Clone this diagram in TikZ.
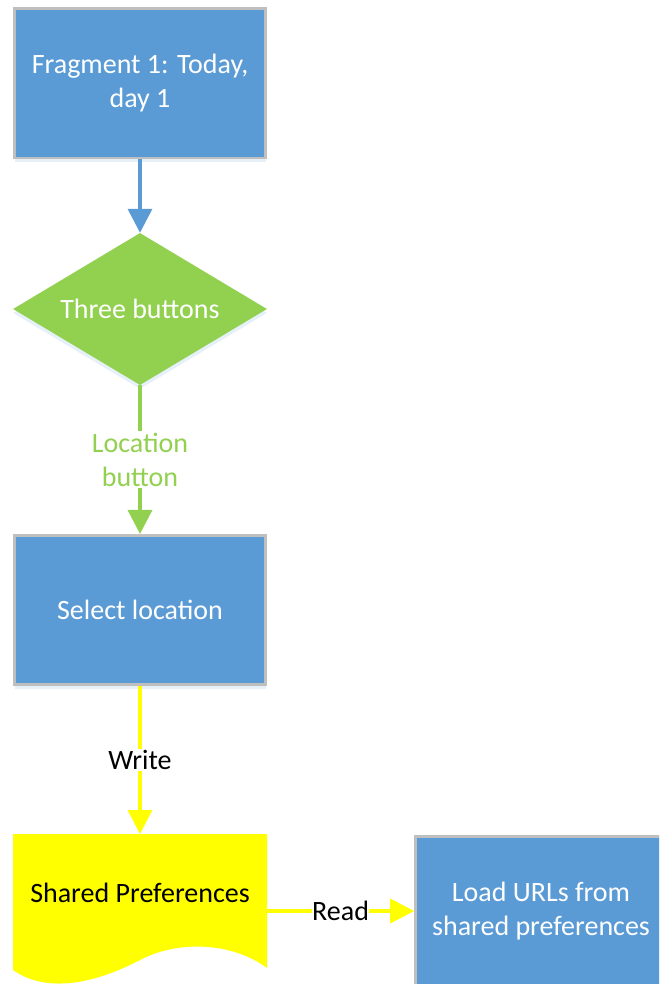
\documentclass[tikz,border=0pt]{standalone}
\usepackage{fontspec}
\setmainfont{Carlito}
\usetikzlibrary{shapes.geometric,arrows.meta,shadows}

\definecolor{procblue}{HTML}{5B9BD5}
\definecolor{decgreen}{HTML}{92D050}
\definecolor{docyellow}{HTML}{FFFF00}
\definecolor{edgegray}{HTML}{BFBFBF}

\tikzset{
  boxfont/.style={font=\fontsize{28}{34}\selectfont},
  process/.style={rectangle, boxfont, align=center, text=white,
    fill=procblue, draw=edgegray, line width=2.6pt,
    minimum width=251pt, minimum height=149.5pt,
    drop shadow={shadow xshift=0pt, shadow yshift=-4pt,
      fill=procblue!30, opacity=0.5}},
  decision/.style={diamond, boxfont, text=white, fill=decgreen,
    aspect=1.67, inner sep=0pt, minimum width=254pt, minimum height=152pt,
    drop shadow={shadow xshift=0pt, shadow yshift=-4pt,
      fill=procblue!30, opacity=0.5}},
  flow/.style={line width=3.5pt, -{Triangle[width=24pt,length=24pt]}},
  flowlabel/.style={boxfont, fill=white, inner sep=1.5pt, align=center}
}

\begin{document}
\begin{tikzpicture}[x=1pt,y=-1pt]
\useasboundingbox (0,0) rectangle (659,984);
\clip (0,0) rectangle (659,984);

% document shape (wavy bottom)
\fill[docyellow] (13,834) -- (267,834) -- (267,968)
  .. controls (232,942) and (178,940) .. (140,960)
  .. controls (102,980) and (50,996) .. (13,970) -- cycle;
\node[boxfont, text=black] (prefs) at (140,893) {Shared Preferences};
\coordinate (prefsin) at (140,834);
\coordinate (prefsout) at (267,911);

\node[process] (frag) at (140,83.3) {Fragment 1: Today,\\day 1};
\node[decision] (three) at (140,309) {Three buttons};
\node[process] (select) at (140,610) {Select location};
\node[process] (load) at (541,911) {Load URLs from\\shared preferences};

\draw[flow, procblue] (frag) -- (three);
\draw[flow, decgreen] (three) -- node[flowlabel, text=decgreen] {Location\\button} (select);
\draw[flow, docyellow] (select) -- node[flowlabel, text=black] {Write} (prefsin);
\draw[flow, docyellow] (prefsout) -- node[flowlabel, text=black, inner sep=0.5pt] {Read} (load.west);
\end{tikzpicture}
\end{document}
